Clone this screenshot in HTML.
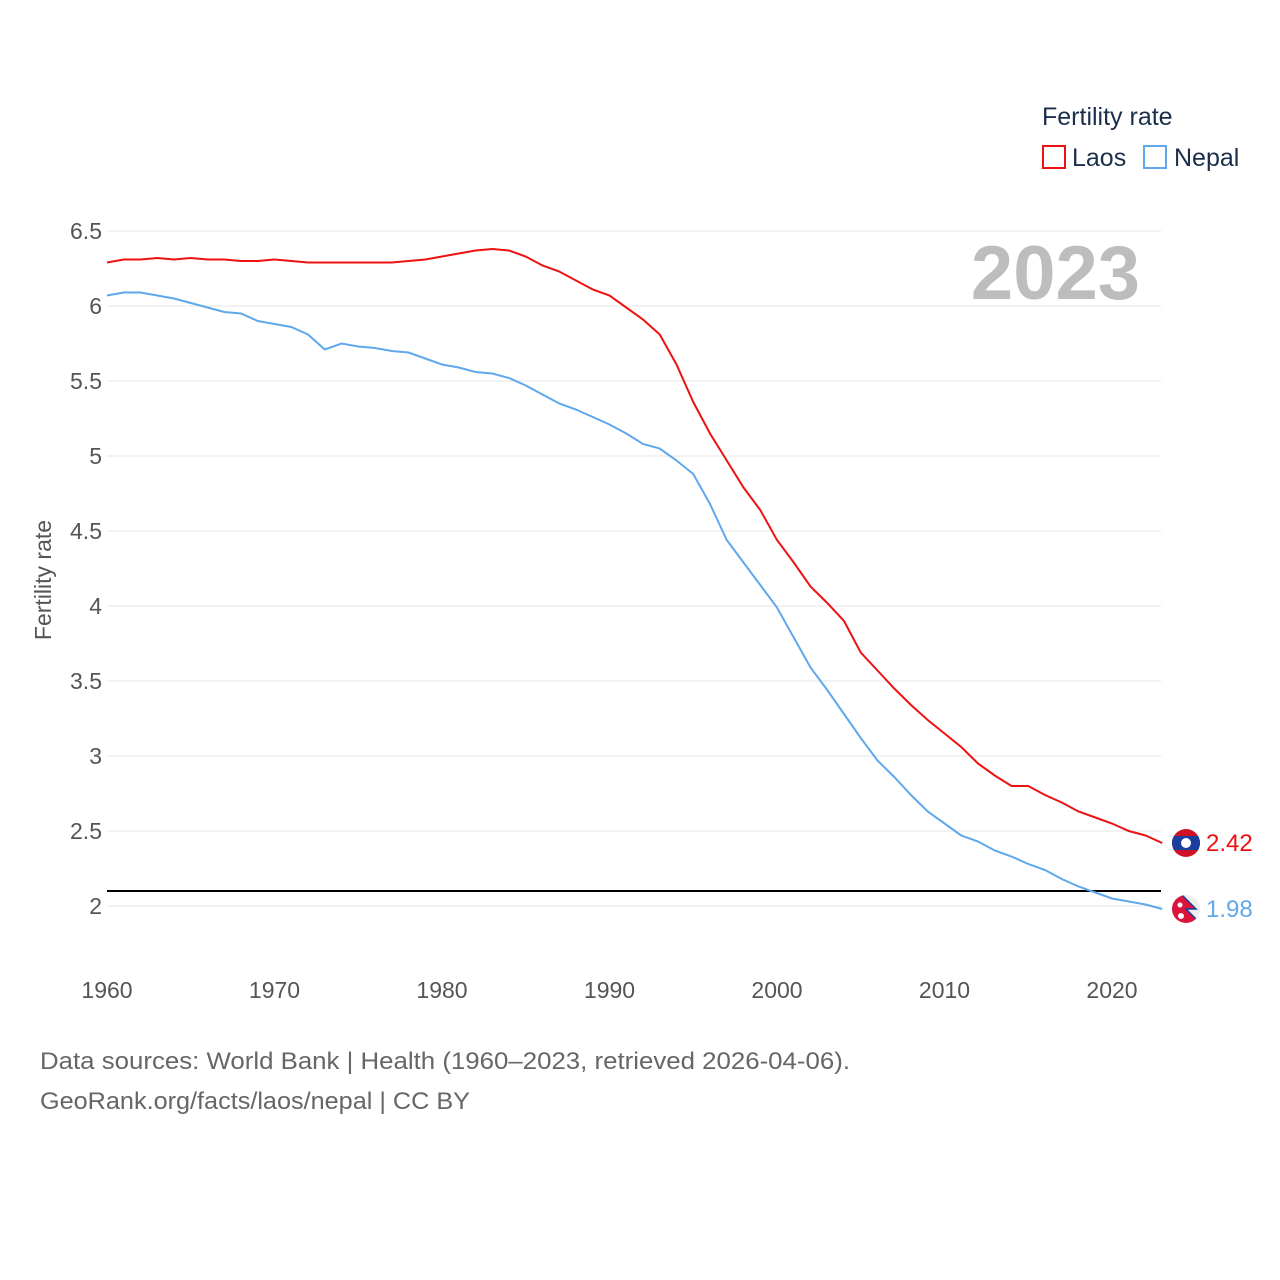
<!DOCTYPE html>
<html><head><meta charset="utf-8"><style>
body{margin:0;background:#fff;}
svg{display:block;font-family:"Liberation Sans",sans-serif;}
</style></head><body>
<svg id="chart" width="1280" height="1280">
<defs><clipPath id="c1"><circle cx="1186" cy="843" r="14"/></clipPath><clipPath id="c2"><circle cx="1186" cy="909" r="14"/></clipPath></defs>
<text x="1042" y="125" font-size="25" fill="#1a2e4c">Fertility rate</text>
<g><rect x="1043" y="146" width="22" height="22" fill="none" stroke="#ee1111" stroke-width="2"/><text x="1072" y="166" font-size="25" fill="#1a2e4c">Laos</text></g>
<g><rect x="1144" y="146" width="22" height="22" fill="none" stroke="#5fa8ec" stroke-width="2"/><text x="1174" y="166" font-size="25" fill="#1a2e4c">Nepal</text></g>
<text x="1140" y="299" font-size="76" font-weight="bold" fill="#bdbdbd" text-anchor="end">2023</text>
<g id="grid"></g><g id="series"></g>
<text transform="translate(51,580) rotate(-90)" font-size="23" fill="#555" text-anchor="middle">Fertility rate</text>
<text x="40" y="1069" font-size="24" fill="#666" textLength="810" lengthAdjust="spacingAndGlyphs">Data sources: World Bank | Health (1960–2023, retrieved 2026-04-06).</text>
<text x="40" y="1109" font-size="24" fill="#666" textLength="430" lengthAdjust="spacingAndGlyphs">GeoRank.org/facts/laos/nepal | CC BY</text>
</svg>
<script>
const years=[];for(let y=1960;y<=2023;y++)years.push(y);
const laos=[6.29,6.31,6.31,6.32,6.31,6.32,6.31,6.31,6.30,6.30,6.31,6.30,6.29,6.29,6.29,6.29,6.29,6.29,6.30,6.31,6.33,6.35,6.37,6.38,6.37,6.33,6.27,6.23,6.17,6.11,6.07,5.99,5.91,5.81,5.61,5.36,5.15,4.97,4.79,4.64,4.44,4.29,4.13,4.02,3.90,3.69,3.57,3.45,3.34,3.24,3.15,3.06,2.95,2.87,2.80,2.80,2.74,2.69,2.63,2.59,2.55,2.50,2.47,2.42];
const nepal=[6.07,6.09,6.09,6.07,6.05,6.02,5.99,5.96,5.95,5.90,5.88,5.86,5.81,5.71,5.75,5.73,5.72,5.70,5.69,5.65,5.61,5.59,5.56,5.55,5.52,5.47,5.41,5.35,5.31,5.26,5.21,5.15,5.08,5.05,4.97,4.88,4.68,4.44,4.29,4.14,3.99,3.79,3.59,3.44,3.28,3.12,2.97,2.86,2.74,2.63,2.55,2.47,2.43,2.37,2.33,2.28,2.24,2.18,2.13,2.09,2.05,2.03,2.01,1.98];
const yTicks=[2,2.5,3,3.5,4,4.5,5,5.5,6,6.5];
const xTicks=[1960,1970,1980,1990,2000,2010,2020];
const replacement=2.1;
const X=y=>107+(y-1960)*16.75, Y=v=>906-(v-2)*150;
const NS="http://www.w3.org/2000/svg";
function mk(t,a,p){const e=document.createElementNS(NS,t);for(const k in a)e.setAttribute(k,a[k]);p.appendChild(e);return e;}
const g=document.getElementById('grid'),s=document.getElementById('series');
yTicks.forEach(v=>{const l=mk('line',{x1:107,x2:1161,y1:Y(v),y2:Y(v),stroke:'#e6e6e6'},g);


const t=mk('text',{x:102,y:Y(v)+8,'font-size':23,fill:'#555','text-anchor':'end'},g);t.textContent=v;

});
xTicks.forEach(v=>{const t=mk('text',{x:X(v),y:998,'font-size':23,fill:'#555','text-anchor':'middle'},g);t.textContent=v;

});
const rl=mk('line',{x1:107,x2:1161,y1:Y(replacement),y2:Y(replacement),stroke:'#000','stroke-width':2},g);


[[laos,'#ee1111','laos'],[nepal,'#5fa8ec','nepal']].forEach(([d,c,n])=>{
const p=mk('polyline',{points:d.map((v,i)=>X(years[i])+','+Y(v)).join(' '),fill:'none',stroke:c,'stroke-width':2},s);


const last=d[d.length-1],cx=1186;
const cy=n==='laos'?843:909;
const f=mk('g',{'clip-path':n==='laos'?'url(#c1)':'url(#c2)'},s);


if(n==='laos'){mk('rect',{x:cx-14,y:cy-14,width:28,height:28,fill:'#ce1126'},f);mk('rect',{x:cx-14,y:cy-7,width:28,height:14,fill:'#1a3f9c'},f);mk('circle',{cx,cy,r:5,fill:'#fff'},f);}
else{mk('rect',{x:cx-14,y:cy-14,width:28,height:28,fill:'#eee'},f);mk('path',{d:`M${cx-16},${cy-16} L${cx-6},${cy-16} L${cx+10},${cy} L${cx},${cy} L${cx+14},${cy+14} L${cx-16},${cy+16} Z`,fill:'#dc143c',stroke:'#1a3f9c','stroke-width':1.5},f);
mk('circle',{cx:cx-6,cy:cy-4,r:2.5,fill:'#fff'},f);mk('circle',{cx:cx-5,cy:cy+7,r:3,fill:'#fff'},f);}
const t=mk('text',{x:1206,y:Y(last)+8,'font-size':24,fill:c},s);t.textContent=last.toFixed(2);


});
</script>
</body></html>
